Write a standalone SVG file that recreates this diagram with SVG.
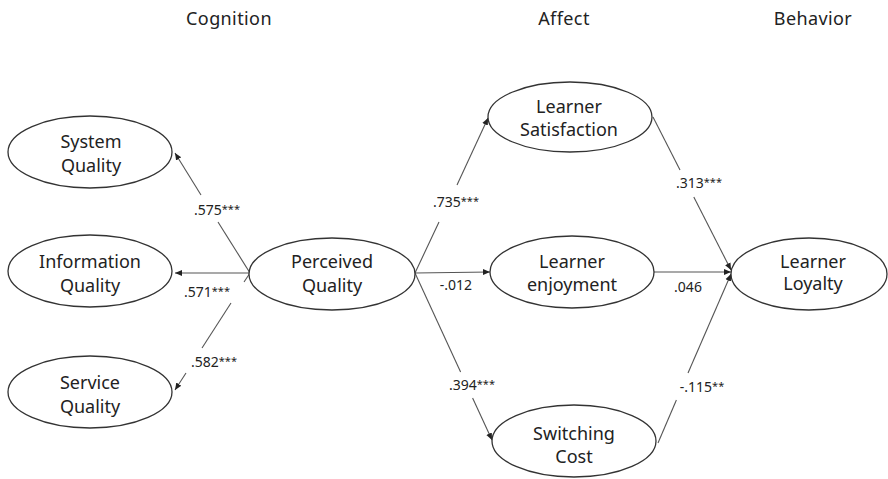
<svg xmlns="http://www.w3.org/2000/svg" width="888" height="479" viewBox="0 0 888 479">
<style>
.node ellipse{fill:#fff;stroke:#333;stroke-width:1.3}
.node text{font-family:"Noto Sans","Open Sans",sans-serif;font-size:18px;fill:#222;text-anchor:middle}
.hdr{font-family:"Noto Sans","Open Sans",sans-serif;font-size:18px;letter-spacing:0.4px;fill:#222;text-anchor:middle}
.lbl{font-family:"Noto Sans","Open Sans",sans-serif;font-size:14px;fill:#222;text-anchor:middle}
.lbl tspan{font-size:11px}
#connectors line{stroke:#555;stroke-width:1.1;fill:none}
</style>
<defs>
<marker id="arr" markerWidth="8" markerHeight="8" refX="7" refY="4" orient="auto" markerUnits="userSpaceOnUse">
<path d="M0,1 L7,4 L0,7 Z" fill="#222"/>
</marker>
</defs>
<rect width="888" height="479" fill="#fff"/>
<g id="headers">
<text class="hdr" x="229" y="25">Cognition</text>
<text class="hdr" x="564" y="25">Affect</text>
<text class="hdr" x="813" y="25">Behavior</text>
</g>
<g id="connectors">
<line x1="250" y1="273" x2="218" y2="222"/>
<line x1="201" y1="195" x2="175" y2="153" marker-end="url(#arr)"/>
<line x1="250" y1="273" x2="175" y2="273" marker-end="url(#arr)"/>
<line x1="250" y1="273" x2="244" y2="282"/>
<line x1="231" y1="303" x2="202" y2="348"/>
<line x1="186" y1="373" x2="175" y2="390" marker-end="url(#arr)"/>
<line x1="415" y1="273" x2="439" y2="222"/>
<line x1="457" y1="185" x2="488" y2="118" marker-end="url(#arr)"/>
<line x1="415" y1="273" x2="490" y2="272" marker-end="url(#arr)"/>
<line x1="415" y1="273" x2="460.6" y2="372"/>
<line x1="472.6" y1="398" x2="492" y2="440" marker-end="url(#arr)"/>
<line x1="653" y1="117" x2="680" y2="170"/>
<line x1="693.8" y1="197" x2="731" y2="270" marker-end="url(#arr)"/>
<line x1="654" y1="272" x2="731" y2="272" marker-end="url(#arr)"/>
<line x1="658" y1="443" x2="676.4" y2="400"/>
<line x1="688" y1="373" x2="731" y2="274" marker-end="url(#arr)"/>
</g>
<g id="labels">
<text class="lbl" x="217" y="215">.575<tspan dy="-2">***</tspan></text>
<text class="lbl" x="207" y="297">.571<tspan dy="-2">***</tspan></text>
<text class="lbl" x="214" y="367">.582<tspan dy="-2">***</tspan></text>
<text class="lbl" x="456" y="207">.735<tspan dy="-2">***</tspan></text>
<text class="lbl" x="456" y="290">-.012</text>
<text class="lbl" x="472" y="390">.394<tspan dy="-2">***</tspan></text>
<text class="lbl" x="699" y="188">.313<tspan dy="-2">***</tspan></text>
<text class="lbl" x="688" y="292">.046</text>
<text class="lbl" x="702" y="392">-.115<tspan dy="-2">**</tspan></text>
</g>
<g id="system-quality" class="node">
<ellipse cx="90" cy="152" rx="82" ry="36"/>
<text x="91" y="148">System</text>
<text x="91" y="172">Quality</text>
</g>
<g id="information-quality" class="node">
<ellipse cx="90" cy="271" rx="82" ry="36"/>
<text x="90" y="268">Information</text>
<text x="90" y="292">Quality</text>
</g>
<g id="service-quality" class="node">
<ellipse cx="90" cy="392" rx="82" ry="36"/>
<text x="90" y="389">Service</text>
<text x="90" y="413">Quality</text>
</g>
<g id="perceived-quality" class="node">
<ellipse cx="332" cy="274" rx="83" ry="36"/>
<text x="332" y="268">Perceived</text>
<text x="332" y="292">Quality</text>
</g>
<g id="learner-satisfaction" class="node">
<ellipse cx="570" cy="117" rx="82" ry="35"/>
<text x="569" y="113">Learner</text>
<text x="569" y="136">Satisfaction</text>
</g>
<g id="learner-enjoyment" class="node">
<ellipse cx="572" cy="272" rx="82" ry="36"/>
<text x="572" y="268">Learner</text>
<text x="572" y="291">enjoyment</text>
</g>
<g id="switching-cost" class="node">
<ellipse cx="574" cy="441" rx="82" ry="36"/>
<text x="574" y="440">Switching</text>
<text x="574" y="463">Cost</text>
</g>
<g id="learner-loyalty" class="node">
<ellipse cx="809" cy="274" rx="78" ry="36"/>
<text x="813" y="268">Learner</text>
<text x="813" y="290">Loyalty</text>
</g>
</svg>
